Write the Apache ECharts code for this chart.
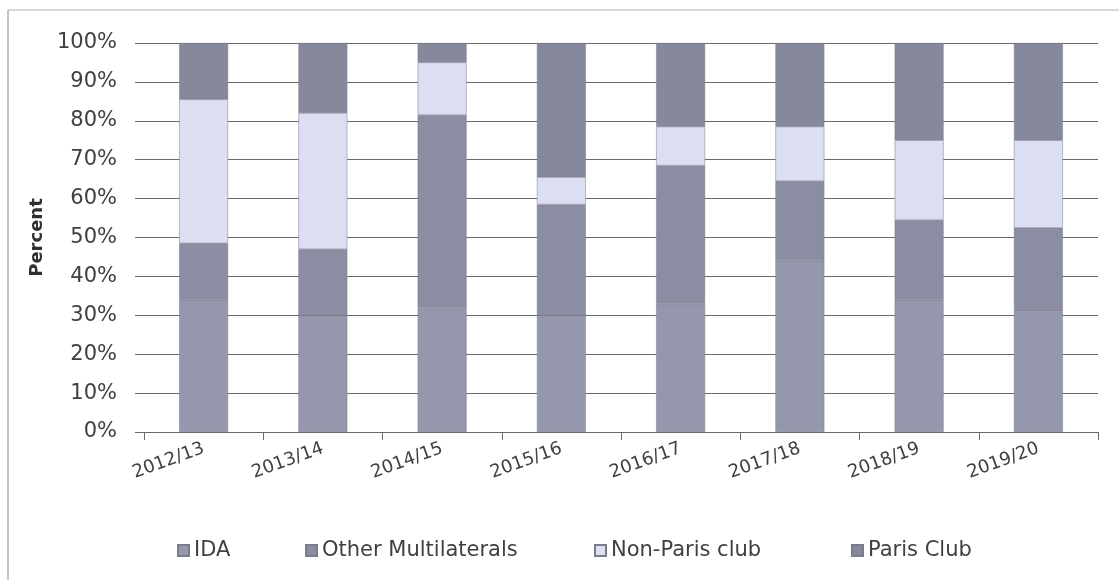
<!DOCTYPE html>
<html>
<head>
<meta charset="utf-8">
<script src="https://cdn.jsdelivr.net/npm/echarts@6/dist/echarts.min.js"></script>
<style>
html,body{margin:0;padding:0;background:#fff;}
#chart{width:1119px;height:580px;}
</style>
</head>
<body>
<div id="chart"></div>
<script>
const categories = ['2012/13','2013/14','2014/15','2015/16','2016/17','2017/18','2018/19','2019/20'];
const ida = [34, 30, 32, 30, 33, 44, 34, 31];
const otherMultilaterals = [14.5, 17, 49.5, 28.5, 35.5, 20.5, 20.5, 21.5];
const nonParisClub = [37, 35, 13.5, 7, 10, 14, 20.5, 22.5];
const parisClub = [14.5, 18, 5, 34.5, 21.5, 21.5, 25, 25];
const yTicks = [0,10,20,30,40,50,60,70,80,90,100];
const seriesNames = ['IDA','Other Multilaterals','Non-Paris club','Paris Club'];

const WIDE = '"DejaVu Sans", sans-serif';
const colors = ['#9597ad', '#8b8da2', '#dcdef2', '#86889c'];
const legendLeft = [172, 300, 589, 846];

const chart = echarts.init(document.getElementById('chart'), null, {renderer:'canvas'});
function mk(name, data, color){
  return {
    name, type:'bar', stack:'total', data,
    barWidth:'41%',
    itemStyle:{color, borderColor:'#7a7c8c', borderWidth:0.5},
    emphasis:{disabled:true}
  };
}
chart.setOption({
  animation:false,
  backgroundColor:'#ffffff',
  textStyle:{fontFamily:WIDE},
  graphic:[
    {type:'line', shape:{x1:8,y1:10,x2:8,y2:580}, style:{stroke:'#8a8a9a', lineWidth:1}},
    {type:'line', shape:{x1:8,y1:10,x2:1119,y2:10}, style:{stroke:'#b0b0bb', lineWidth:1}}
  ],
  grid:{left:144, right:21, top:43, bottom:148, containLabel:false},
  legend: seriesNames.map((n, i) => ({
    top:535, left:legendLeft[i],
    itemWidth:11, itemHeight:11, itemGap:0,
    icon:'rect', selectedMode:false,
    textStyle:{fontFamily:WIDE, fontSize:21, color:'#404040'},
    data:[n]
  })),
  xAxis:{
    type:'category', data:categories,
    axisLine:{show:true, lineStyle:{color:'#6a6a6a', width:1}},
    axisTick:{show:true, alignWithLabel:false, length:8, lineStyle:{color:'#6a6a6a'}},
    axisLabel:{rotate:20, margin:16, fontSize:18, color:'#404040', fontFamily:WIDE}
  },
  yAxis:{
    type:'value', min:0, max:100, interval:10,
    name:'Percent', nameLocation:'middle', nameGap:91, nameRotate:90,
    nameTextStyle:{fontSize:18, fontWeight:'bold', color:'#303030', fontFamily:WIDE},
    axisLine:{show:false},
    axisTick:{show:true, length:9, lineStyle:{color:'#6a6a6a'}},
    splitLine:{show:true, lineStyle:{color:'#6a6a6a', width:1}},
    axisLabel:{margin:27, fontSize:21, color:'#404040', fontFamily:WIDE,
      formatter:v => yTicks.includes(v) ? v + '%' : ''}
  },
  series:[
    mk(seriesNames[0], ida, colors[0]),
    mk(seriesNames[1], otherMultilaterals, colors[1]),
    mk(seriesNames[2], nonParisClub, colors[2]),
    mk(seriesNames[3], parisClub, colors[3])
  ]
});
</script>
</body>
</html>
